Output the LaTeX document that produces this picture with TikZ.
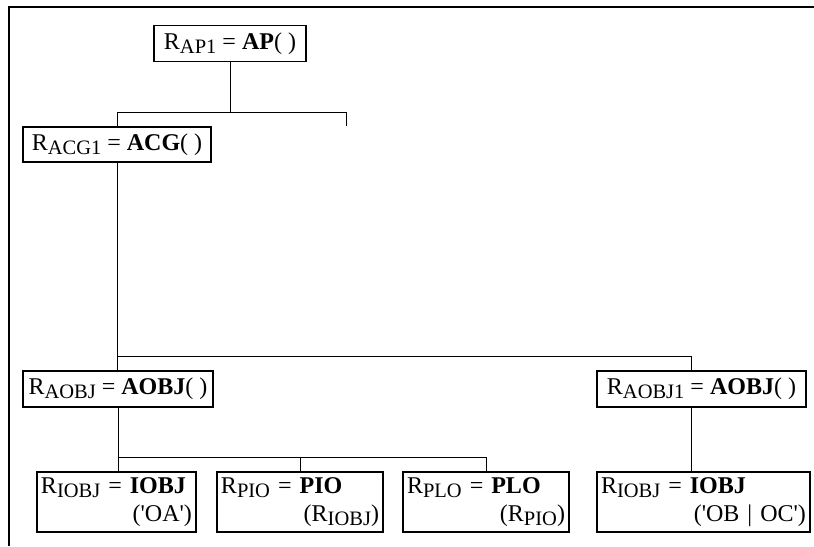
\documentclass[tikz,border=0pt]{standalone}
\usepackage{fontspec}
\setmainfont{Liberation Serif}
\newcommand{\lowsub}[1]{\raisebox{-0.35ex}{\fontsize{17.5}{18}\selectfont #1}}
\newcommand{\sq}{\textquotesingle}
\tikzset{
  objbox/.style={
    draw=black,
    line width=1.1pt,
    inner sep=0.12cm,
    font=\fontsize{20.5}{24}\selectfont
  },
  callbox/.style={objbox, minimum height=1.08cm},
  argbox/.style={objbox, align=left, minimum height=1.8cm},
  treeline/.style={line width=0.8pt},
  frameline/.style={line width=1.4pt}
}

\begin{document}
\begin{tikzpicture}[x=0.03cm,y=-0.03cm]
\useasboundingbox (0,0) rectangle (814,546);
\draw[frameline] (814,7) -- (9,7) -- (9,546);
\node[callbox, minimum width=4.56cm] (ap1) at (230,43.5) {R\lowsub{AP1} = \textbf{AP}( )};
\node[callbox, minimum width=5.64cm, minimum height=1.05cm] (acg1) at (117,144.5) {R\lowsub{ACG1} = \textbf{ACG}( )};
\node[callbox, minimum width=5.7cm] (aobj) at (118,389) {R\lowsub{AOBJ} = \textbf{AOBJ}( )};
\node[callbox, minimum width=6.27cm] (aobj1) at (701.5,389) {R\lowsub{AOBJ1} = \textbf{AOBJ}( )};
\node[argbox, text width=4.53cm] (iobj) at (116.5,502) {R\lowsub{IOBJ} = \textbf{IOBJ}\\ \hspace*{\fill}(\sq OA\sq)};
\node[argbox, text width=4.74cm] (pio) at (300,502) {R\lowsub{PIO} = \textbf{PIO}\\ \hspace*{\fill}(R\lowsub{IOBJ})};
\node[argbox, text width=4.74cm] (plo) at (486,502) {R\lowsub{PLO} = \textbf{PLO}\\ \hspace*{\fill}(R\lowsub{PIO})};
\node[argbox, text width=6.15cm] (iobj1) at (703.5,502) {R\lowsub{IOBJ} = \textbf{IOBJ}\\ \hspace*{\fill}(\sq OB | OC\sq)};
\coordinate (bus1) at (0,112);
\coordinate (stub) at (346,126);
\coordinate (bus2) at (691,356);
\coordinate (bus3) at (0,457);
\draw[treeline] (ap1.south) -- (ap1.south |- bus1);
\draw[treeline] (acg1.north) -- (acg1.north |- bus1) -| (stub);
\draw[treeline] (acg1.south) -- (acg1.south |- aobj.north);
\draw[treeline] (acg1.south |- bus2) -- (bus2) -- (bus2 |- aobj1.north);
\draw[treeline] (aobj.south) -- (aobj.south |- iobj.north);
\draw[treeline] (aobj.south |- bus3) -| (plo.north);
\draw[treeline] (pio.north) -- (pio.north |- bus3);
\draw[treeline] (bus2 |- aobj1.south) -- (bus2 |- iobj1.north);
\end{tikzpicture}
\end{document}
